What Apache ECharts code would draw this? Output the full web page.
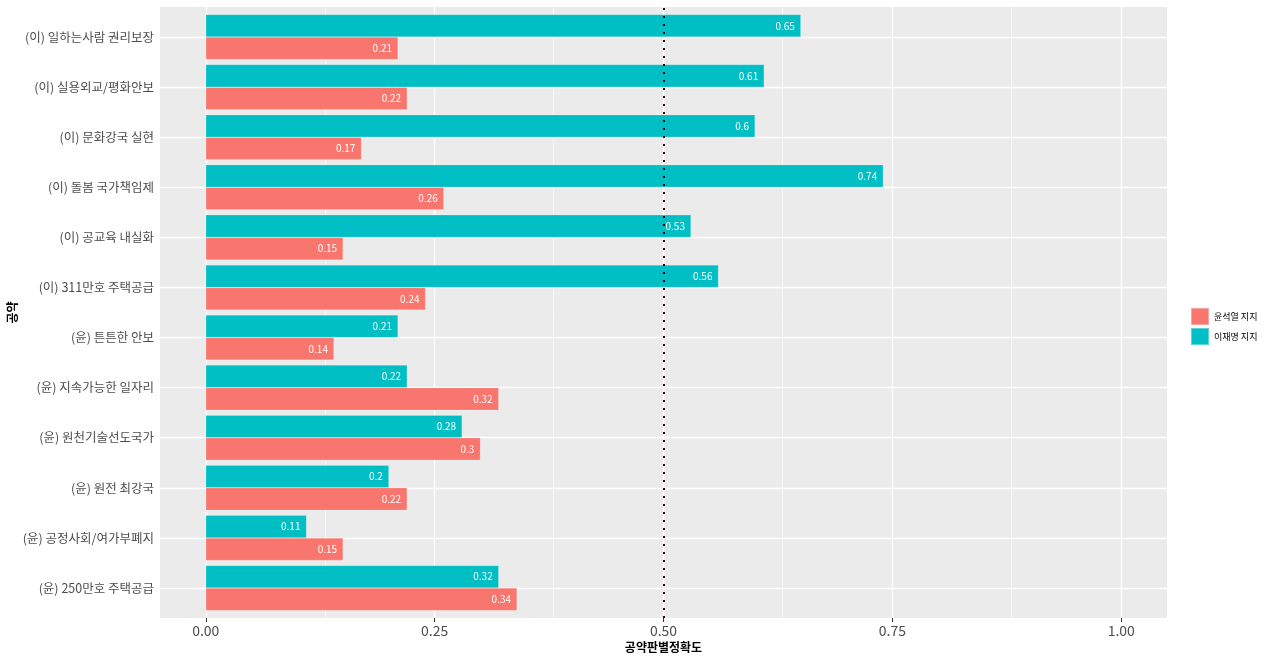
<!DOCTYPE html>
<html><head><meta charset="utf-8">
<script src="https://cdn.jsdelivr.net/npm/echarts@6/dist/echarts.min.js"></script>
<style>html,body{margin:0;padding:0;background:#fff}#c{width:1280px;height:661px}</style>
</head><body><div id="c"></div>
<script>
const categories = ['(이) 일하는사람 권리보장','(이) 실용외교/평화안보','(이) 문화강국 실현','(이) 돌봄 국가책임제','(이) 공교육 내실화','(이) 311만호 주택공급','(윤) 튼튼한 안보','(윤) 지속가능한 일자리','(윤) 원천기술선도국가','(윤) 원전 최강국','(윤) 공정사회/여가부폐지','(윤) 250만호 주택공급'];
const leeValues = [0.65,0.61,0.6,0.74,0.53,0.56,0.21,0.22,0.28,0.2,0.11,0.32];
const yoonValues = [0.21,0.22,0.17,0.26,0.15,0.24,0.14,0.32,0.3,0.22,0.15,0.34];
const xTicks = [0,0.25,0.5,0.75,1];
const xMinor = [0.125,0.375,0.625,0.875];
const refLine = 0.5;

const chart = echarts.init(document.getElementById('c'));
const font = '"Noto Sans CJK KR", "Noto Sans", sans-serif';
const vLines = [];
xTicks.forEach(v => vLines.push({xAxis: v, lineStyle: {color: '#fff', width: 1.3, type: 'solid'}}));
xMinor.forEach(v => vLines.push({xAxis: v, lineStyle: {color: '#fff', width: 0.6, type: 'solid'}}));
const hLines = categories.map(c => ({yAxis: c, lineStyle: {color: '#fff', width: 1.3, type: 'solid'}}));

const labelCfg = {show: true, position: 'insideRight', color: '#fff', fontSize: 10, fontFamily: font, distance: 6};
chart.setOption({
  animation: false,
  textStyle: {fontFamily: font},
  grid: [
    {left: 160, right: 113, top: 7, bottom: 43, show: true, backgroundColor: '#EBEBEB', borderWidth: 0,
     containLabel: false, outerBoundsMode: 'none'},
    {left: 160, right: 113, top: 12, bottom: 48, show: false, containLabel: false, outerBoundsMode: 'none'}
  ],
  legend: {
    data: ['윤석열 지지','이재명 지지'], orient: 'vertical', left: 1185, top: 302,
    itemWidth: 18, itemHeight: 17, itemGap: 1, icon: 'rect',
    textStyle: {fontSize: 9, color: '#000', fontFamily: font}
  },
  xAxis: [{
    gridIndex: 0, type: 'value', min: -0.05, max: 1.05,
    name: '공약판별정확도', nameLocation: 'middle', nameGap: 23, nameMoveOverlap: false,
    nameTextStyle: {fontSize: 12, fontWeight: 'bold', color: '#000', fontFamily: font},
    axisLine: {show: false},
    axisTick: {show: true, customValues: xTicks, length: 4, lineStyle: {color: '#333'}},
    axisLabel: {customValues: xTicks, formatter: v => v.toFixed(2), fontSize: 14, color: '#4D4D4D', margin: 6, fontFamily: font},
    splitLine: {show: false}
  }, {
    gridIndex: 1, type: 'value', min: -0.05, max: 1.05, show: false, splitLine: {show: false}
  }],
  yAxis: [{
    gridIndex: 0, type: 'value', min: 0, max: 1, show: false, splitLine: {show: false}
  }, {
    gridIndex: 1, type: 'category', data: categories, inverse: true,
    name: '공약', nameLocation: 'middle', nameRotate: 90, nameGap: 142, nameMoveOverlap: false,
    nameTextStyle: {fontSize: 12, fontWeight: 'bold', color: '#000', fontFamily: font},
    axisLine: {show: false},
    axisTick: {show: true, alignWithLabel: true, length: 4, lineStyle: {color: '#333'}},
    axisLabel: {fontSize: 12.5, color: '#4D4D4D', margin: 6, fontFamily: font},
    splitLine: {show: false}
  }],
  series: [
    {type: 'line', xAxisIndex: 0, yAxisIndex: 0, data: [], z: 1, silent: true,
     markLine: {z: 1, silent: true, symbol: 'none', label: {show: false}, data: vLines}},
    {type: 'line', xAxisIndex: 1, yAxisIndex: 1, data: [], z: 1, silent: true,
     markLine: {z: 1, silent: true, symbol: 'none', label: {show: false}, data: hLines}},
    {name: '이재명 지지', type: 'bar', xAxisIndex: 1, yAxisIndex: 1, data: leeValues, z: 2, barGap: '0%', barCategoryGap: '10%',
     itemStyle: {color: '#00BFC4', borderColor: 'rgba(255,255,255,0.35)', borderWidth: 0.5}, label: labelCfg},
    {name: '윤석열 지지', type: 'bar', xAxisIndex: 1, yAxisIndex: 1, data: yoonValues, z: 2, barGap: '0%', barCategoryGap: '10%',
     itemStyle: {color: '#F8766D', borderColor: 'rgba(255,255,255,0.35)', borderWidth: 0.5}, label: labelCfg},
    {type: 'line', xAxisIndex: 0, yAxisIndex: 0, data: [], z: 5, silent: true,
     markLine: {z: 6, silent: true, symbol: 'none', label: {show: false},
       data: [{xAxis: refLine}], lineStyle: {color: '#2b0000', width: 2, type: [2, 6]}}}
  ]
});
</script></body></html>
